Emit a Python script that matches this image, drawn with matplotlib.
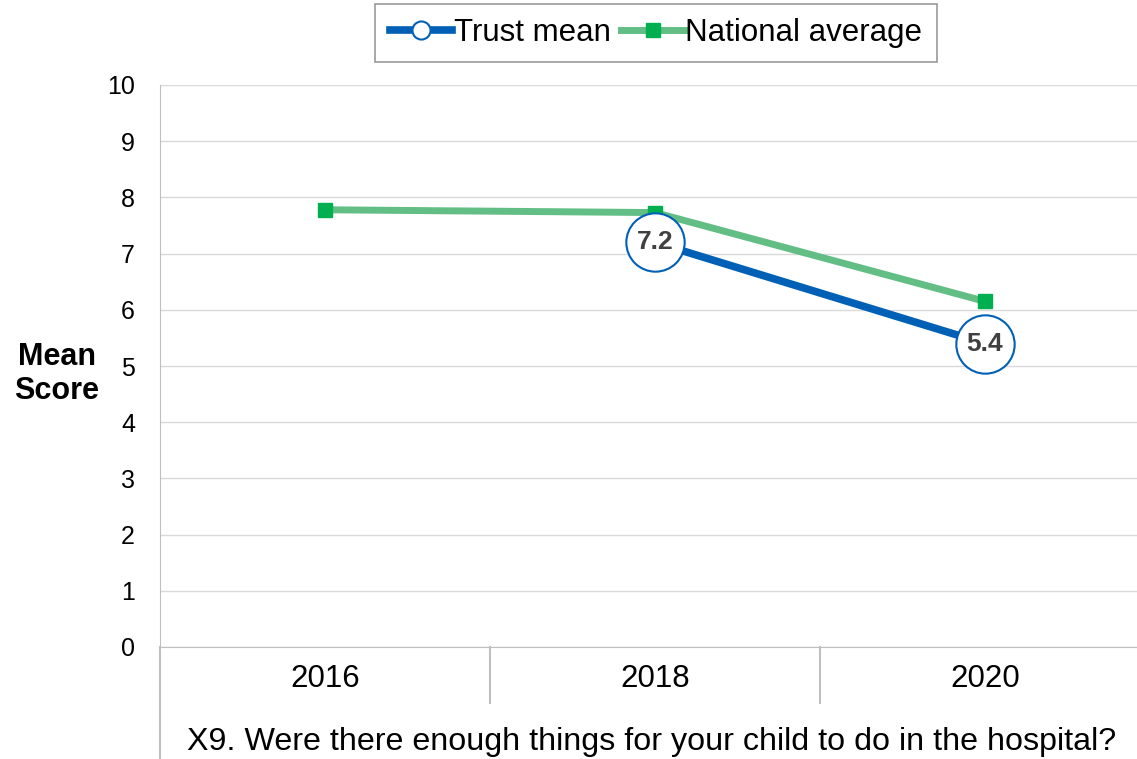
import numpy as np
import matplotlib.pyplot as plt
import matplotlib.transforms as mtransforms

plt.rcParams['font.family'] = ['Liberation Sans', 'DejaVu Sans']

# chart data
years = ["2016", "2018", "2020"]
trust_mean = [np.nan, 7.2, 5.4]
national_avg = [7.78, 7.73, 6.15]
question = "X9. Were there enough things for your child to do in the hospital?"

W, H = 1137, 759
fig = plt.figure(figsize=(W / 100, H / 100), dpi=100)
# axes: left 160px, bottom 647px, top 85px, category width 330px
ax = fig.add_axes([160 / W, (H - 647) / H, 990 / W, (647 - 85) / H])

x = np.arange(len(years))

ax.plot(x, national_avg, color='#62BE84', linewidth=5, marker='s',
        markersize=10, markerfacecolor='#00B050', markeredgecolor='#00B050',
        label='National average', zorder=3)
ax.plot(x, trust_mean, color='#0060B5', linewidth=5.5, marker='o',
        markersize=13, markerfacecolor='white', markeredgecolor='#0060B5',
        markeredgewidth=1.5, label='Trust mean', zorder=4)
# big circles holding the value labels
ax.plot(x, trust_mean, linestyle='none', marker='o', markersize=42,
        markerfacecolor='white', markeredgecolor='#0060B5',
        markeredgewidth=1.5, zorder=5)
for xi, v in zip(x, trust_mean):
    if not np.isnan(v):
        ax.text(xi, v, f"{v:.1f}", ha='center', va='center', fontsize=19,
                fontweight='bold', color='#404040', zorder=6)

ax.set_xlim(-0.5, 2.5)
ax.set_ylim(0, 10)
ax.set_yticks(range(0, 11))
ax.set_xticks(x)
ax.set_xticklabels(years, fontsize=22.5)
ax.tick_params(axis='y', labelsize=18, length=0, pad=18)
ax.tick_params(axis='x', length=0, pad=12)
ax.grid(axis='y', color='#D9D9D9', linewidth=1)
ax.set_axisbelow(True)
for s in ['top', 'right']:
    ax.spines[s].set_visible(False)
ax.spines['left'].set_color('#BFBFBF')
ax.spines['bottom'].set_color('#BFBFBF')

# category separators and extended left spine
trans = mtransforms.blended_transform_factory(ax.transData, ax.transAxes)
for b in [0.5, 1.5]:
    ax.plot([b, b], [0, -56 / 562], color='#BFBFBF', linewidth=1.5,
            transform=trans, clip_on=False)
ax.plot([-0.5, -0.5], [0, -112 / 562], color='#BFBFBF', linewidth=1.5,
        transform=trans, clip_on=False)

ax.set_xlabel(question, fontsize=23.2)
ax.xaxis.set_label_coords((652 - 160) / 990, -(742 - 647) / 562)
ax.xaxis.label.set_va('center')

fig.text(57 / W, 1 - 374 / H, "Mean\nScore", ha='center', va='center',
         fontsize=22, fontweight='bold', linespacing=1.2)

handles, labels = ax.get_legend_handles_labels()
leg = fig.legend(handles[::-1], labels[::-1], loc='center',
                 bbox_to_anchor=(656 / W, 1 - 33 / H), ncol=2, fontsize=22.5,
                 frameon=True, fancybox=False, edgecolor='#808080',
                 handlelength=2.0, handletextpad=0.05, columnspacing=0.35,
                 borderpad=0.45, borderaxespad=0)
leg.get_frame().set_linewidth(1.2)

fig.savefig('out.png', dpi=100)
